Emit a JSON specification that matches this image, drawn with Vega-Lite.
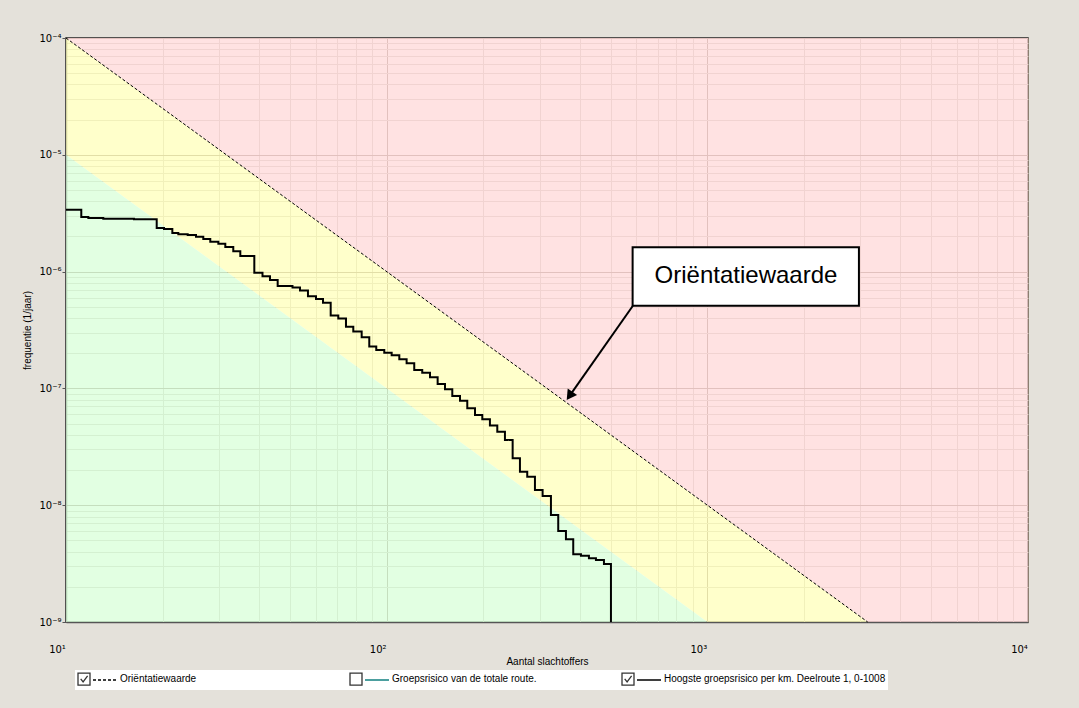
{
  "$schema": "https://vega.github.io/schema/vega-lite/v6.json",
  "width": 962,
  "height": 584,
  "autosize": {"type": "none"},
  "padding": {"left": 66, "top": 38, "right": 51, "bottom": 86},
  "background": "#E4E1DA",
  "view": {"fill": "#FFFFFF", "stroke": "#222222", "strokeWidth": 1.5},
  "config": {
    "font": "Liberation Sans",
    "view": {"stroke": "#222222", "strokeWidth": 1.5, "fill": "#FFFFFF"}
  },
  "datasets": {
    "zones": [
      {"zone": "rood", "N": 10, "lo": 1e-4, "hi": 1e-4},
      {"zone": "rood", "N": 3162.28, "lo": 1e-9, "hi": 1e-4},
      {"zone": "rood", "N": 10000, "lo": 1e-9, "hi": 1e-4},
      {"zone": "geel", "N": 10, "lo": 1e-5, "hi": 1e-4},
      {"zone": "geel", "N": 1000, "lo": 1e-9, "hi": 1e-8},
      {"zone": "geel", "N": 3162.28, "lo": 1e-9, "hi": 1e-9},
      {"zone": "groen", "N": 10, "lo": 1e-9, "hi": 1e-5},
      {"zone": "groen", "N": 1000, "lo": 1e-9, "hi": 1e-9}
    ],
    "fn": [
      {"serie": "orientatie", "N": 10, "f": 1e-4},
      {"serie": "orientatie", "N": 3162.28, "f": 1e-9},
      {"serie": "hoogste", "N": 10, "f": 3.39e-6},
      {"serie": "hoogste", "N": 11.16, "f": 2.934e-6},
      {"serie": "hoogste", "N": 11.74, "f": 2.877e-6},
      {"serie": "hoogste", "N": 13.07, "f": 2.838e-6},
      {"serie": "hoogste", "N": 16.29, "f": 2.804e-6},
      {"serie": "hoogste", "N": 19.18, "f": 2.362e-6},
      {"serie": "hoogste", "N": 20.21, "f": 2.316e-6},
      {"serie": "hoogste", "N": 21.46, "f": 2.14e-6},
      {"serie": "hoogste", "N": 22.4, "f": 2.086e-6},
      {"serie": "hoogste", "N": 23.96, "f": 2.057e-6},
      {"serie": "hoogste", "N": 25.43, "f": 1.989e-6},
      {"serie": "hoogste", "N": 26.8, "f": 1.901e-6},
      {"serie": "hoogste", "N": 28.18, "f": 1.803e-6},
      {"serie": "hoogste", "N": 29.86, "f": 1.733e-6},
      {"serie": "hoogste", "N": 31.39, "f": 1.624e-6},
      {"serie": "hoogste", "N": 33.24, "f": 1.492e-6},
      {"serie": "hoogste", "N": 34.96, "f": 1.36e-6},
      {"serie": "hoogste", "N": 38.66, "f": 9.79e-7},
      {"serie": "hoogste", "N": 41.0, "f": 9.12e-7},
      {"serie": "hoogste", "N": 43.26, "f": 8.47e-7},
      {"serie": "hoogste", "N": 45.72, "f": 7.53e-7},
      {"serie": "hoogste", "N": 50.85, "f": 7.31e-7},
      {"serie": "hoogste", "N": 53.66, "f": 6.89e-7},
      {"serie": "hoogste", "N": 56.83, "f": 6.14e-7},
      {"serie": "hoogste", "N": 60.2, "f": 5.83e-7},
      {"serie": "hoogste", "N": 63.3, "f": 5.42e-7},
      {"serie": "hoogste", "N": 66.9, "f": 4.21e-7},
      {"serie": "hoogste", "N": 70.65, "f": 3.97e-7},
      {"serie": "hoogste", "N": 74.66, "f": 3.375e-7},
      {"serie": "hoogste", "N": 78.69, "f": 3.07e-7},
      {"serie": "hoogste", "N": 83.57, "f": 2.74e-7},
      {"serie": "hoogste", "N": 88.26, "f": 2.285e-7},
      {"serie": "hoogste", "N": 92.8, "f": 2.132e-7},
      {"serie": "hoogste", "N": 98.29, "f": 2.021e-7},
      {"serie": "hoogste", "N": 103.65, "f": 1.92e-7},
      {"serie": "hoogste", "N": 109.5, "f": 1.775e-7},
      {"serie": "hoogste", "N": 115.4, "f": 1.64e-7},
      {"serie": "hoogste", "N": 121.9, "f": 1.437e-7},
      {"serie": "hoogste", "N": 129.1, "f": 1.363e-7},
      {"serie": "hoogste", "N": 136.5, "f": 1.245e-7},
      {"serie": "hoogste", "N": 144.2, "f": 1.091e-7},
      {"serie": "hoogste", "N": 152.0, "f": 9.82e-8},
      {"serie": "hoogste", "N": 160.2, "f": 8.61e-8},
      {"serie": "hoogste", "N": 169.3, "f": 7.85e-8},
      {"serie": "hoogste", "N": 178.4, "f": 6.76e-8},
      {"serie": "hoogste", "N": 188.6, "f": 5.92e-8},
      {"serie": "hoogste", "N": 198.7, "f": 5.44e-8},
      {"serie": "hoogste", "N": 209.9, "f": 4.81e-8},
      {"serie": "hoogste", "N": 221.3, "f": 4.26e-8},
      {"serie": "hoogste", "N": 233.8, "f": 3.62e-8},
      {"serie": "hoogste", "N": 247.1, "f": 2.52e-8},
      {"serie": "hoogste", "N": 260.4, "f": 1.936e-8},
      {"serie": "hoogste", "N": 274.4, "f": 1.754e-8},
      {"serie": "hoogste", "N": 290.0, "f": 1.349e-8},
      {"serie": "hoogste", "N": 306.4, "f": 1.199e-8},
      {"serie": "hoogste", "N": 325.3, "f": 8.24e-9},
      {"serie": "hoogste", "N": 342.8, "f": 6.01e-9},
      {"serie": "hoogste", "N": 362.3, "f": 5.1e-9},
      {"serie": "hoogste", "N": 381.8, "f": 3.8e-9},
      {"serie": "hoogste", "N": 403.5, "f": 3.69e-9},
      {"serie": "hoogste", "N": 427.3, "f": 3.51e-9},
      {"serie": "hoogste", "N": 449.4, "f": 3.4e-9},
      {"serie": "hoogste", "N": 476.0, "f": 3.14e-9},
      {"serie": "hoogste", "N": 500.5, "f": 1e-9}
    ],
    "annot": [
      {"tekst": "Oriëntatiewaarde", "x1": 584.8, "x2": 2970, "y1": 5.1e-7, "y2": 1.614e-6, "xt": 1319.6, "yt": 9.08e-7, "ax": 586, "ay": 5.1e-7, "px": 371.8, "py": 8.63e-8}
    ],
    "items": [
      {"label": "Oriëntatiewaarde"},
      {"label": "Groepsrisico van de totale route."},
      {"label": "Hoogste groepsrisico per km. Deelroute 1, 0-1008"}
    ]
  },
  "encoding": {
    "x": {
      "type": "quantitative",
      "scale": {"type": "log", "domain": [10, 10000], "nice": false},
      "axis": {
        "title": "Aantal slachtoffers",
        "titleFontSize": 10,
        "titleFontWeight": "normal",
        "titleColor": "#000000",
        "titlePadding": 2,
        "values": [10,20,30,40,50,60,70,80,90,100,200,300,400,500,600,700,800,900,1000,2000,3000,4000,5000,6000,7000,8000,9000,10000],
        "labelExpr": "abs(log(datum.value)/LN10 - round(log(datum.value)/LN10)) < 1e-6 ? '10' + ['⁰','¹','²','³','⁴'][round(log(datum.value)/LN10)] : ''",
        "labelFont": "DejaVu Sans",
        "labelFontSize": 10,
        "labelColor": "#000000",
        "labelFlush": false,
        "labelOverlap": false,
        "labelPadding": 22,
        "labelOffset": -9,
        "ticks": false,
        "domainColor": "#555555",
        "domainWidth": 1.5,
        "grid": true,
        "gridColor": {"condition": {"test": "abs(log(datum.value)/LN10 - round(log(datum.value)/LN10)) < 1e-6", "value": "#8C7E70"}, "value": "#C8C1BA"},
        "gridWidth": 1
      }
    },
    "y": {
      "type": "quantitative",
      "scale": {"type": "log", "domain": [1e-9, 1e-4], "nice": false},
      "axis": {
        "title": "frequentie (1/jaar)",
        "titleFontSize": 10,
        "titleFontWeight": "normal",
        "titleColor": "#000000",
        "titlePadding": 6,
        "values": [1e-9,2e-9,3e-9,4e-9,5e-9,6e-9,7e-9,8e-9,9e-9,1e-8,2e-8,3e-8,4e-8,5e-8,6e-8,7e-8,8e-8,9e-8,1e-7,2e-7,3e-7,4e-7,5e-7,6e-7,7e-7,8e-7,9e-7,1e-6,2e-6,3e-6,4e-6,5e-6,6e-6,7e-6,8e-6,9e-6,1e-5,2e-5,3e-5,4e-5,5e-5,6e-5,7e-5,8e-5,9e-5,1e-4],
        "labelExpr": "abs(log(datum.value)/LN10 - round(log(datum.value)/LN10)) < 1e-6 ? '10⁻' + ['⁰','¹','²','³','⁴','⁵','⁶','⁷','⁸','⁹'][-round(log(datum.value)/LN10)] : ''",
        "labelFont": "DejaVu Sans",
        "labelFontSize": 10,
        "labelColor": "#000000",
        "labelFlush": false,
        "labelOverlap": false,
        "labelPadding": 1,
        "tickSize": 4,
        "tickColor": "#555555",
        "tickOpacity": {"condition": {"test": "abs(log(datum.value)/LN10 - round(log(datum.value)/LN10)) < 1e-6", "value": 1}, "value": 0},
        "domainColor": "#555555",
        "domainWidth": 1.5,
        "grid": true,
        "gridColor": {"condition": {"test": "abs(log(datum.value)/LN10 - round(log(datum.value)/LN10)) < 1e-6", "value": "#8C7E70"}, "value": "#C8C1BA"},
        "gridWidth": 1
      }
    }
  },
  "layer": [
    {
      "data": {"name": "zones"},
      "mark": {"type": "area", "opacity": 0.75},
      "encoding": {
        "x": {"field": "N"},
        "y": {"field": "hi"},
        "y2": {"field": "lo"},
        "fill": {"field": "zone", "type": "nominal", "scale": {"domain": ["rood", "geel", "groen"], "range": ["#FFD8D8", "#FFFFBA", "#D8FFD8"]}, "legend": null}
      }
    },
    {
      "data": {"name": "items"},
      "mark": {"type": "point", "opacity": 0, "filled": false},
      "encoding": {
        "shape": {
          "field": "label", "type": "nominal",
          "scale": {"domain": ["Oriëntatiewaarde", "Groepsrisico van de totale route.", "Hoogste groepsrisico per km. Deelroute 1, 0-1008"],
                    "range": ["M-1,-1H1V1H-1Z M-0.55,-0.05L-0.15,0.45L0.6,-0.55", "M-1,-1H1V1H-1Z", "M-1,-1H1V1H-1Z M-0.55,-0.05L-0.15,0.45L0.6,-0.55"]},
          "legend": {
            "title": null,
            "orient": "none",
            "legendX": 9,
            "legendY": 632,
            "direction": "horizontal",
            "columns": 3,
            "gridAlign": "all",
            "columnPadding": 5,
            "padding": 2,
            "fillColor": "white",
            "symbolSize": 144,
            "symbolOpacity": 1,
            "symbolFillColor": "white",
            "symbolStrokeColor": "#333333",
            "symbolStrokeWidth": 1.3,
            "labelOffset": 29,
            "labelFontSize": 10,
            "labelColor": "#000000",
            "labelLimit": 400,
            "zindex": 0
          }
        }
      }
    },
    {
      "data": {"name": "fn"},
      "transform": [{"filter": "datum.serie == 'orientatie'"}],
      "mark": {"type": "line", "strokeWidth": 1},
      "encoding": {
        "x": {"field": "N"},
        "y": {"field": "f"},
        "color": {"field": "serie", "type": "nominal"},
        "strokeDash": {"field": "serie", "type": "nominal"}
      }
    },
    {
      "data": {"name": "fn"},
      "transform": [{"filter": "datum.serie == 'hoogste'"}],
      "mark": {"type": "line", "strokeWidth": 2, "interpolate": "step-after"},
      "encoding": {
        "x": {"field": "N"},
        "y": {"field": "f"},
        "color": {
          "field": "serie", "type": "nominal",
          "scale": {"domain": ["orientatie", "totaal", "hoogste"], "range": ["#000000", "#128080", "#000000"]},
          "legend": {
            "title": null,
            "orient": "none",
            "legendX": 26,
            "legendY": 629,
            "direction": "horizontal",
            "columns": 3,
            "gridAlign": "all",
            "columnPadding": 242,
            "padding": 0,
            "symbolType": "stroke",
            "symbolSize": 576,
            "symbolStrokeWidth": 1.5,
            "labelOffset": 0,
            "labelFontSize": 10,
            "labelExpr": "''",
            "zindex": 1
          }
        },
        "strokeDash": {
          "field": "serie", "type": "nominal",
          "scale": {"domain": ["orientatie", "totaal", "hoogste"], "range": [[3, 2], [1, 0], [1, 0]]}
        }
      }
    },
    {
      "data": {"name": "annot"},
      "mark": {"type": "rule", "strokeWidth": 2, "color": "#000000"},
      "encoding": {
        "x": {"field": "ax"},
        "y": {"field": "ay"},
        "x2": {"field": "px"},
        "y2": {"field": "py"}
      }
    },
    {
      "data": {"name": "annot"},
      "mark": {"type": "point", "shape": "triangle-up", "filled": true, "color": "#000000", "opacity": 1, "size": 130, "angle": 215},
      "encoding": {
        "x": {"field": "px"},
        "y": {"field": "py"}
      }
    },
    {
      "data": {"name": "annot"},
      "mark": {"type": "rect", "fill": "white", "stroke": "#000000", "strokeWidth": 2},
      "encoding": {
        "x": {"field": "x1"},
        "x2": {"field": "x2"},
        "y": {"field": "y1"},
        "y2": {"field": "y2"}
      }
    },
    {
      "data": {"name": "annot"},
      "mark": {"type": "text", "fontSize": 24, "color": "#000000", "align": "center", "baseline": "middle"},
      "encoding": {
        "x": {"field": "xt"},
        "y": {"field": "yt"},
        "text": {"field": "tekst"}
      }
    }
  ]
}
